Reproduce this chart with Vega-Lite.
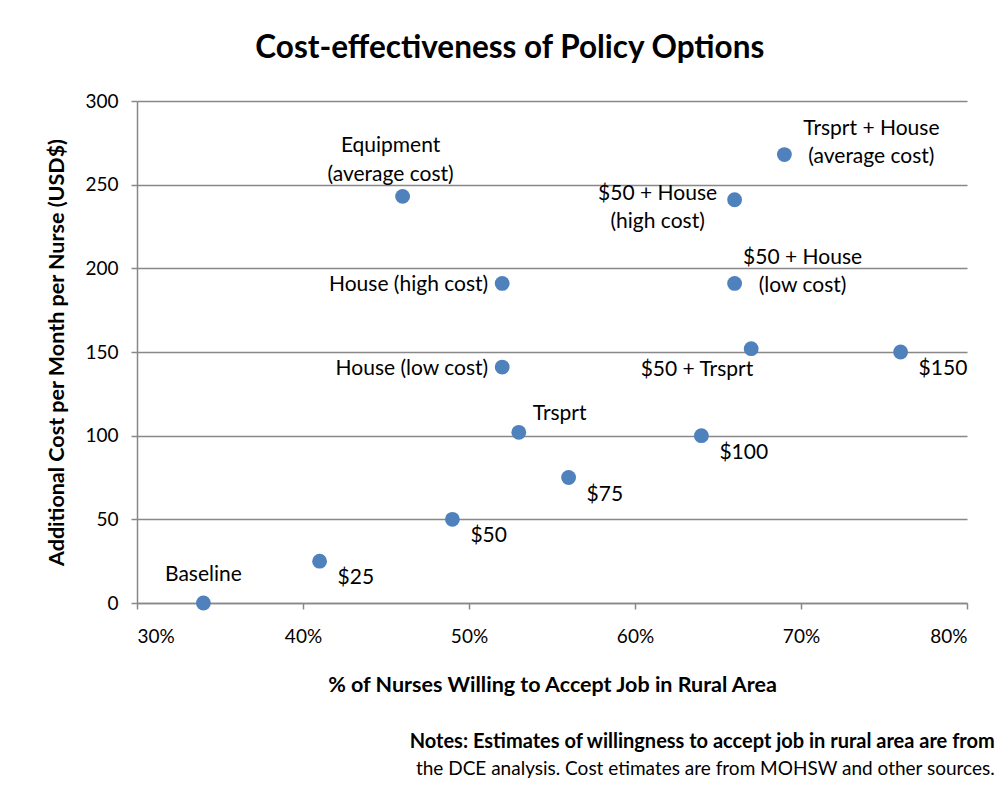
{
  "$schema": "https://vega.github.io/schema/vega-lite/v6.json",
  "padding": {"left": 46, "top": 32, "right": 5, "bottom": 5},
  "background": "white",
  "title": {
    "text": "Cost-effectiveness of Policy Options",
    "fontSize": 31.5, "fontWeight": "bold", "font": "Lato", "color": "black",
    "anchor": "middle", "offset": 28, "dx": -11
  },
  "config": {
    "font": "Lato",
    "view": {"stroke": null},
    "axis": {
      "labelFont": "Lato", "titleFont": "Lato", "labelColor": "black", "titleColor": "black",
      "labelFontSize": 19, "titleFontSize": 21.5, "titleFontWeight": "bold",
      "domainColor": "#888888", "tickColor": "#888888", "gridColor": "#888888",
      "tickSize": 6, "domainWidth": 1.5, "gridWidth": 1.5, "tickWidth": 1.5
    }
  },
  "datasets": {
    "options": [
      {"label": "Baseline", "pct": 0.34, "cost": 0},
      {"label": "$25", "pct": 0.41, "cost": 25},
      {"label": "$50", "pct": 0.49, "cost": 50},
      {"label": "$75", "pct": 0.56, "cost": 75},
      {"label": "$100", "pct": 0.64, "cost": 100},
      {"label": "$150", "pct": 0.76, "cost": 150},
      {"label": "Trsprt", "pct": 0.53, "cost": 102},
      {"label": "House (low cost)", "pct": 0.52, "cost": 141},
      {"label": "House (high cost)", "pct": 0.52, "cost": 191},
      {"label": "Equipment\n(average cost)", "pct": 0.46, "cost": 243},
      {"label": "$50 + House\n(high cost)", "pct": 0.66, "cost": 241},
      {"label": "$50 + House\n(low cost)", "pct": 0.66, "cost": 191},
      {"label": "$50 + Trsprt", "pct": 0.67, "cost": 152},
      {"label": "Trsprt + House\n(average cost)", "pct": 0.69, "cost": 268}
    ]
  },
  "vconcat": [
    {
      "width": 830,
      "height": 502,
      "data": {"name": "options"},
      "title": {
        "text": "Notes: Estimates of willingness to accept job in rural area are from",
        "subtitle": "the DCE analysis. Cost etimates are from MOHSW and other sources.",
        "orient": "bottom", "anchor": "end", "dx": 27, "offset": 36,
        "font": "Lato", "fontSize": 20, "fontWeight": "bold", "color": "black",
        "subtitleFont": "Lato", "subtitleFontSize": 19, "subtitleFontWeight": "normal",
        "subtitleColor": "black", "subtitlePadding": 8
      },
      "encoding": {
        "x": {
          "field": "pct", "type": "quantitative",
          "scale": {"domain": [0.3, 0.8], "nice": false, "zero": false},
          "axis": {
            "title": "% of Nurses Willing to Accept Job in Rural Area",
            "format": ".0%", "values": [0.3, 0.4, 0.5, 0.6, 0.7, 0.8],
            "grid": false, "labelPadding": 18, "titlePadding": 28
          }
        },
        "y": {
          "field": "cost", "type": "quantitative",
          "scale": {"domain": [0, 300], "nice": false},
          "axis": {
            "title": "Additional Cost per Month per Nurse (USD$)",
            "values": [0, 50, 100, 150, 200, 250, 300],
            "grid": true, "labelPadding": 13, "titlePadding": 16
          }
        }
      },
      "layer": [
        {
          "mark": {"type": "point", "filled": true, "size": 220, "color": "#4f81bd", "opacity": 1}
        },
        {
          "transform": [{"filter": {"field": "label", "oneOf": ["$25", "$50", "$75", "$100", "$150"]}}],
          "mark": {"type": "text", "align": "left", "baseline": "middle", "dx": 18, "dy": 17, "fontSize": 21, "color": "black"},
          "encoding": {"text": {"field": "label"}}
        },
        {
          "transform": [{"filter": {"field": "label", "oneOf": ["House (high cost)", "House (low cost)"]}}],
          "mark": {"type": "text", "align": "right", "baseline": "middle", "dx": -14, "dy": 2, "fontSize": 21, "color": "black"},
          "encoding": {"text": {"field": "label"}}
        },
        {
          "transform": [{"filter": {"field": "label", "equal": "Trsprt"}}],
          "mark": {"type": "text", "align": "left", "baseline": "middle", "dx": 14, "dy": -18, "fontSize": 21, "color": "black"},
          "encoding": {"text": {"field": "label"}}
        },
        {
          "transform": [{"filter": {"field": "label", "equal": "Baseline"}}],
          "mark": {"type": "text", "align": "center", "baseline": "middle", "dx": 0, "dy": -28, "fontSize": 21, "color": "black"},
          "encoding": {"text": {"field": "label"}}
        },
        {
          "transform": [{"filter": {"field": "label", "equal": "Equipment\n(average cost)"}}],
          "mark": {"type": "text", "align": "center", "baseline": "middle", "dx": -12, "dy": -50, "fontSize": 21, "lineHeight": 29, "lineBreak": "\n", "color": "black"},
          "encoding": {"text": {"field": "label"}}
        },
        {
          "transform": [{"filter": {"field": "label", "equal": "$50 + House\n(high cost)"}}],
          "mark": {"type": "text", "align": "center", "baseline": "middle", "dx": -77, "dy": -6, "fontSize": 21, "lineHeight": 28, "lineBreak": "\n", "color": "black"},
          "encoding": {"text": {"field": "label"}}
        },
        {
          "transform": [{"filter": {"field": "label", "equal": "$50 + House\n(low cost)"}}],
          "mark": {"type": "text", "align": "center", "baseline": "middle", "dx": 68, "dy": -25, "fontSize": 21, "lineHeight": 28, "lineBreak": "\n", "color": "black"},
          "encoding": {"text": {"field": "label"}}
        },
        {
          "transform": [{"filter": {"field": "label", "equal": "Trsprt + House\n(average cost)"}}],
          "mark": {"type": "text", "align": "center", "baseline": "middle", "dx": 87, "dy": -26, "fontSize": 21, "lineHeight": 28, "lineBreak": "\n", "color": "black"},
          "encoding": {"text": {"field": "label"}}
        },
        {
          "transform": [{"filter": {"field": "label", "equal": "$50 + Trsprt"}}],
          "mark": {"type": "text", "align": "right", "baseline": "middle", "dx": 2, "dy": 21, "fontSize": 21, "color": "black"},
          "encoding": {"text": {"field": "label"}}
        }
      ]
    }
  ]
}
